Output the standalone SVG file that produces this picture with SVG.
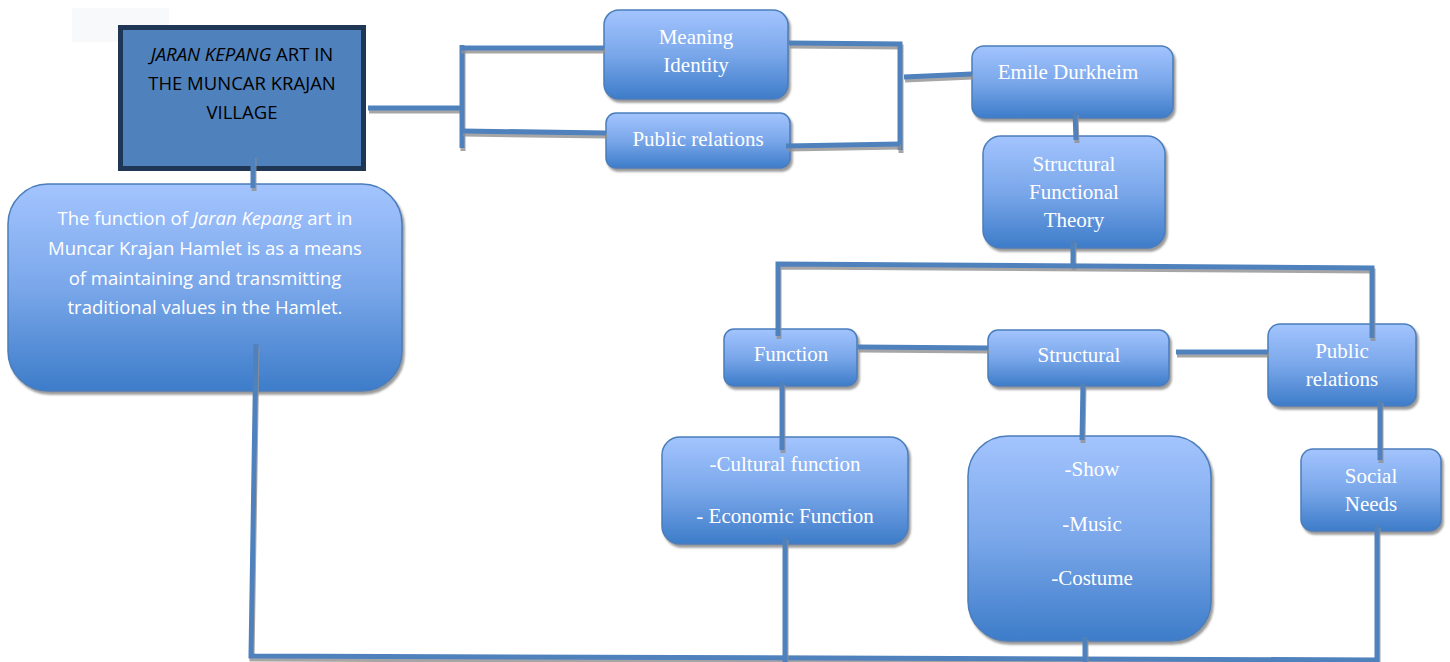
<svg xmlns="http://www.w3.org/2000/svg" width="1450" height="662" viewBox="0 0 1450 662">
<style>
.box{fill:url(#g);stroke:#4a7ebb;stroke-width:1.5;filter:url(#sh)}
.ln{fill:none;stroke:#4f81bd;stroke-width:5;filter:url(#lsh)}
.t{font-family:"Liberation Serif","Times New Roman",serif;font-size:21px;fill:#ffffff;text-anchor:middle}
.c{font-family:"Open Sans","Liberation Sans",sans-serif;font-size:18.5px;text-anchor:middle}
</style>
<defs>
<linearGradient id="g" x1="0" y1="0" x2="0" y2="1">
<stop offset="0" stop-color="#a3c4fe"/>
<stop offset="0.5" stop-color="#7aa7ea"/>
<stop offset="1" stop-color="#3d7cc9"/>
</linearGradient>
<filter id="sh" filterUnits="userSpaceOnUse" x="0" y="0" width="1450" height="662">
<feGaussianBlur in="SourceAlpha" stdDeviation="1"/>
<feOffset dx="2" dy="3" result="o"/>
<feFlood flood-color="#808080" flood-opacity="0.8"/>
<feComposite in2="o" operator="in"/>
<feMerge><feMergeNode/><feMergeNode in="SourceGraphic"/></feMerge>
</filter>
<filter id="lsh" filterUnits="userSpaceOnUse" x="0" y="0" width="1450" height="662">
<feOffset in="SourceAlpha" dx="1" dy="3" result="o"/>
<feFlood flood-color="#909090" flood-opacity="0.8"/>
<feComposite in2="o" operator="in"/>
<feMerge><feMergeNode/><feMergeNode in="SourceGraphic"/></feMerge>
</filter>
</defs>
<rect x="72" y="8" width="97" height="34" fill="#f8f9fa"/>

<g id="title">
<rect x="120.5" y="27.5" width="243" height="141" fill="#4f81bd" stroke="#1f3654" stroke-width="5"/>
<text class="c" fill="#000" x="242" y="61" font-size="19"><tspan font-style="italic">JARAN KEPANG</tspan> ART IN</text>
<text class="c" fill="#000" x="242" y="90" font-size="19">THE MUNCAR KRAJAN</text>
<text class="c" fill="#000" x="242" y="119" font-size="19">VILLAGE</text>
</g>

<g id="description">
<rect class="box" x="8" y="184" width="394" height="207" rx="40"/>
<text class="c" fill="#fff" x="205" y="225">The function of <tspan font-style="italic">Jaran Kepang</tspan> art in</text>
<text class="c" fill="#fff" x="205" y="255">Muncar Krajan Hamlet is as a means</text>
<text class="c" fill="#fff" x="205" y="285">of maintaining and transmitting</text>
<text class="c" fill="#fff" x="205" y="314">traditional values in the Hamlet.</text>
</g>

<g id="meaning">
<rect class="box" x="604" y="10" width="184" height="89" rx="15"/>
<text class="t" x="696" y="44">Meaning</text>
<text class="t" x="696" y="72">Identity</text>
</g>

<g id="public1">
<rect class="box" x="606" y="113" width="184" height="55" rx="10"/>
<text class="t" x="698" y="146">Public relations</text>
</g>

<g id="emile">
<rect class="box" x="972" y="46" width="201" height="72" rx="12"/>
<text class="t" x="1068" y="79">Emile Durkheim</text>
</g>

<g id="sft">
<rect class="box" x="983" y="136" width="182" height="112" rx="18"/>
<text class="t" x="1074" y="171">Structural</text>
<text class="t" x="1074" y="199">Functional</text>
<text class="t" x="1074" y="227">Theory</text>
</g>

<g id="function">
<rect class="box" x="724" y="329" width="133" height="57" rx="10"/>
<text class="t" x="791" y="361">Function</text>
</g>

<g id="structural">
<rect class="box" x="988" y="330" width="181" height="56" rx="10"/>
<text class="t" x="1079" y="362">Structural</text>
</g>

<g id="public2">
<rect class="box" x="1268" y="324" width="148" height="82" rx="12"/>
<text class="t" x="1342" y="358">Public</text>
<text class="t" x="1342" y="386">relations</text>
</g>

<g id="cultural">
<rect class="box" x="662" y="437" width="246" height="107" rx="18"/>
<text class="t" x="785" y="471">-Cultural function</text>
<text class="t" x="785" y="523">- Economic Function</text>
</g>

<g id="show">
<rect class="box" x="968" y="436" width="243" height="205" rx="40"/>
<text class="t" x="1092" y="476">-Show</text>
<text class="t" x="1092" y="531">-Music</text>
<text class="t" x="1092" y="585">-Costume</text>
</g>

<g id="social">
<rect class="box" x="1301" y="449" width="140" height="82" rx="12"/>
<text class="t" x="1371" y="483">Social</text>
<text class="t" x="1371" y="511">Needs</text>
</g>

<g id="connectors">
<path class="ln" d="M368,108 L462,108"/>
<path class="ln" d="M462,45 L462,148"/>
<path class="ln" d="M460,48 L604,48"/>
<path class="ln" d="M462,131 L606,133"/>
<path class="ln" d="M789,43 L900,44 L900,150"/>
<path class="ln" d="M786,146 L900,144"/>
<path class="ln" d="M904,77 L972,74"/>
<path class="ln" d="M253,155 L253,188"/>
<path class="ln" d="M1075,112 L1076,140"/>
<path class="ln" d="M1073,240 L1073,267"/>
<path class="ln" d="M778,336 L778,264 L1372,268 L1372,338"/>
<path class="ln" d="M858,347 L988,348"/>
<path class="ln" d="M1176,352 L1268,352"/>
<path class="ln" d="M782,382 L782,450"/>
<path class="ln" d="M1083,383 L1082,440"/>
<path class="ln" d="M1380,400 L1380,460"/>
<path class="ln" d="M256,344 L251,656 L1377,660 L1377,525"/>
<path class="ln" d="M785,537 L785,662"/>
<path class="ln" d="M1085,637 L1085,662"/>
</g>
</svg>
